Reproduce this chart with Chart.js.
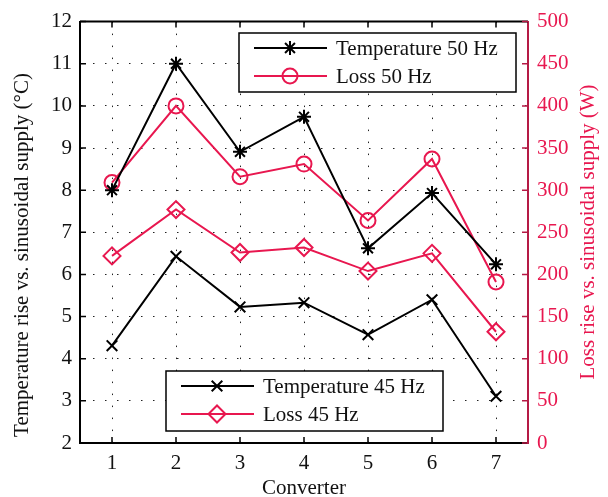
<!DOCTYPE html>
<html>
<head>
<meta charset="utf-8">
<script src="https://cdn.jsdelivr.net/npm/chart.js@4.4.1/dist/chart.umd.min.js"></script>
<style>
  body { margin: 0; background: #fff; }
  #wrap { width: 608px; height: 497px; }
</style>
</head>
<body>
<div id="wrap"><canvas id="chart" width="608" height="497"></canvas></div>
<script>
// values
const converters = [1, 2, 3, 4, 5, 6, 7];
const temp50 = [8.0, 11.0, 8.91, 9.74, 6.62, 7.93, 6.24];
const loss50 = [309, 400, 316, 331, 264, 337, 191];
const temp45 = [4.31, 6.43, 5.23, 5.33, 4.57, 5.40, 3.11];
const loss45 = [222, 277, 226, 232, 204, 225, 132];
const leftTicks = [2, 3, 4, 5, 6, 7, 8, 9, 10, 11, 12];
const rightTicks = [0, 50, 100, 150, 200, 250, 300, 350, 400, 450, 500];

const BLACK = '#000000';
const RED = '#e8174f';
const RED_AXIS = '#b51a45';
const FONT = 'Liberation Serif';

Chart.defaults.font.family = FONT;
Chart.defaults.font.size = 21;
Chart.defaults.color = '#111';

const toPts = (vals) => converters.map((c, i) => ({ x: c, y: vals[i] }));

const series = (label, vals, color, style, radius, axis) => ({
    label: label,
    data: toPts(vals),
    yAxisID: axis,
    borderColor: color,
    backgroundColor: 'rgba(0,0,0,0)',
    borderWidth: 2,
    pointStyle: style,
    pointRadius: radius,
    pointBorderWidth: 2,
    pointBorderColor: color,
    pointBackgroundColor: 'rgba(0,0,0,0)',
    tension: 0
});

const datasets = [
    series('Temperature 50 Hz', temp50, BLACK, 'star', 7, 'y'),
    series('Loss 50 Hz', loss50, RED, 'circle', 7.5, 'y1'),
    series('Temperature 45 Hz', temp45, BLACK, 'crossRot', 7.5, 'y'),
    series('Loss 45 Hz', loss45, RED, 'rectRot', 8.5, 'y1')
];

// two separate legend boxes, like the original figure
const legendBoxes = [
    { items: [0, 1], x: 239, y: 33, w: 277, h: 59 },
    { items: [2, 3], x: 166, y: 371, w: 277, h: 60 }
];

const legendPlugin = {
    id: 'twoLegends',
    afterDatasetsDraw(chart) {
        const ctx = chart.ctx;
        legendBoxes.forEach(box => {
            ctx.save();
            ctx.fillStyle = '#fff';
            ctx.fillRect(box.x, box.y, box.w, box.h);
            ctx.lineWidth = 1.5;
            ctx.strokeStyle = BLACK;
            ctx.strokeRect(box.x, box.y, box.w, box.h);
            box.items.forEach((idx, row) => {
                const ds = chart.data.datasets[idx];
                const y = box.y + 15 + row * 28;
                ctx.beginPath();
                ctx.lineWidth = 2;
                ctx.strokeStyle = ds.borderColor;
                ctx.moveTo(box.x + 15, y);
                ctx.lineTo(box.x + 88, y);
                ctx.stroke();
                ctx.strokeStyle = ds.pointBorderColor;
                ctx.fillStyle = 'rgba(0,0,0,0)';
                Chart.helpers.drawPoint(ctx, {
                    pointStyle: ds.pointStyle,
                    radius: ds.pointRadius,
                    rotation: 0,
                    borderWidth: 2
                }, box.x + 51, y);
                ctx.fillStyle = '#111';
                ctx.font = '21px ' + FONT;
                ctx.textBaseline = 'middle';
                ctx.textAlign = 'left';
                ctx.fillText(ds.label, box.x + 97, y + 1);
            });
            ctx.restore();
        });
    }
};

// box frame, inward tick marks and axis titles
const framePlugin = {
    id: 'frame',
    afterDraw(chart) {
        const { ctx, chartArea: a, scales } = chart;
        ctx.save();
        ctx.lineWidth = 2;
        ctx.strokeStyle = BLACK;
        ctx.beginPath();
        ctx.moveTo(a.left, a.top);
        ctx.lineTo(a.right, a.top);
        ctx.stroke();
        const tl = 6;
        ctx.lineWidth = 1.5;
        ctx.beginPath();
        scales.x.ticks.forEach(t => {
            const px = scales.x.getPixelForValue(t.value);
            ctx.moveTo(px, a.bottom); ctx.lineTo(px, a.bottom - tl);
            ctx.moveTo(px, a.top); ctx.lineTo(px, a.top + tl);
        });
        scales.y.ticks.forEach(t => {
            const py = scales.y.getPixelForValue(t.value);
            ctx.moveTo(a.left, py); ctx.lineTo(a.left + tl, py);
        });
        ctx.stroke();
        ctx.strokeStyle = RED_AXIS;
        ctx.beginPath();
        scales.y1.ticks.forEach(t => {
            const py = scales.y1.getPixelForValue(t.value);
            ctx.moveTo(a.right, py); ctx.lineTo(a.right - tl, py);
        });
        ctx.stroke();

        ctx.font = '21px ' + FONT;
        ctx.textAlign = 'center';
        ctx.textBaseline = 'middle';
        ctx.fillStyle = '#111';
        ctx.fillText('Converter', (a.left + a.right) / 2, 488);

        ctx.save();
        ctx.translate(22, 255);
        ctx.rotate(-Math.PI / 2);
        ctx.fillText('Temperature rise vs. sinusoidal supply (°C)', 0, 0);
        ctx.restore();

        ctx.save();
        ctx.translate(588, 232);
        ctx.rotate(-Math.PI / 2);
        ctx.fillStyle = RED;
        ctx.fillText('Loss rise vs. sinusoidal supply (W)', 0, 0);
        ctx.restore();
        ctx.restore();
    }
};

new Chart(document.getElementById('chart'), {
    type: 'line',
    data: { datasets: datasets },
    options: {
        responsive: false,
        animation: false,
        layout: { padding: { top: 19, left: 0, right: 0, bottom: 0 } },
        plugins: {
            legend: { display: false },
            tooltip: { enabled: false }
        },
        scales: {
            x: {
                type: 'linear',
                min: 0.5,
                max: 7.5,
                afterBuildTicks: (s) => { s.ticks = converters.map(v => ({ value: v })); },
                afterFit: (s) => { s.height = 54; },
                ticks: { padding: 8, color: '#111' },
                grid: { color: '#222', lineWidth: 1, drawTicks: false },
                border: { display: true, color: BLACK, width: 2, dash: [1.5, 10.5] }
            },
            y: {
                position: 'left',
                min: 2,
                max: 12,
                afterBuildTicks: (s) => { s.ticks = leftTicks.map(v => ({ value: v })); },
                afterFit: (s) => { s.width = 80; },
                ticks: { padding: 8, color: '#111' },
                grid: { color: '#222', lineWidth: 1, drawTicks: false },
                border: { display: true, color: BLACK, width: 2, dash: [1.5, 10.5] }
            },
            y1: {
                position: 'right',
                min: 0,
                max: 500,
                afterBuildTicks: (s) => { s.ticks = rightTicks.map(v => ({ value: v })); },
                afterFit: (s) => { s.width = 80; },
                ticks: { padding: 9, color: RED },
                grid: { display: false, drawTicks: false },
                border: { display: true, color: RED_AXIS, width: 2 }
            }
        }
    },
    plugins: [framePlugin, legendPlugin]
});
</script>
</body>
</html>
